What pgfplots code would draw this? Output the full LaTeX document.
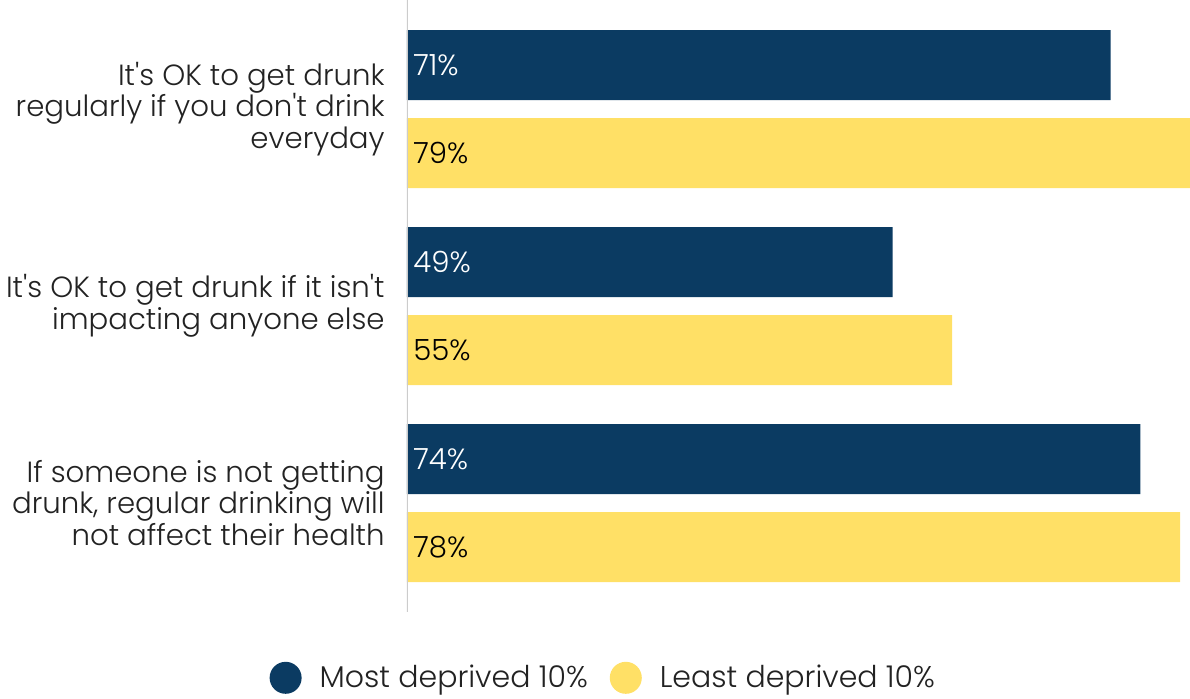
\documentclass[border=0pt]{standalone}
\usepackage{fontspec}
\setmainfont{Poppins}[UprightFont={* Light}]
\usepackage{pgfplots}
\pgfplotsset{compat=1.18}
\definecolor{navy}{HTML}{0B3B62}
\definecolor{sun}{HTML}{FFE066}
\definecolor{axgray}{HTML}{CCCCCC}
\definecolor{txt}{HTML}{222222}
\newcommand{\lab}{\fontsize{14.6}{15.75}\selectfont}
\newcommand{\q}{\textquotesingle}
\begin{document}
\begin{tikzpicture}
\begin{axis}[
  at={(203.5pt,0pt)}, anchor=north west,
  scale only axis, width=391.5pt, height=306pt,
  xbar, xmin=0, xmax=79,
  ymin=-0.5533, ymax=2.5533, y dir=reverse,
  enlargelimits=false,
  bar width=35pt,
  axis line style={draw=none},
  xtick=\empty,
  ytick={0,1,2},
  yticklabels={{It\q s OK to get drunk\\regularly if you don\q t drink\\everyday},
               {It\q s OK to get drunk if it isn\q t\\impacting anyone else},
               {If someone is not getting\\drunk, regular drinking will\\not affect their health}},
  yticklabel style={align=right, font=\lab, text=txt, inner sep=0pt, xshift=-11pt},
  major tick length=0pt,
  legend style={at={(0.252,-0.1075)}, anchor=center, draw=none, legend columns=2,
     font=\fontsize{15}{17}\selectfont, text=txt, /tikz/every even column/.append style={column sep=9pt}},
  legend cell align=left,
]
\addplot[fill=navy, draw=none, bar shift=22pt,
  legend image code/.code={\fill[navy, draw=none] (0pt,0pt) circle (8pt); \path[draw=none, fill=none] (0pt,0pt) -- (15pt,0pt);}]
  coordinates {(71,0) (49,1) (74,2)};
\addlegendentry{Most deprived 10\%}
\addplot[fill=sun, draw=none, bar shift=-22pt,
  legend image code/.code={\fill[sun, draw=none] (0pt,0pt) circle (8pt); \path[draw=none, fill=none] (0pt,0pt) -- (15pt,0pt);}]
  coordinates {(79,0) (55,1) (78,2)};
\addlegendentry{Least deprived 10\%}
\addplot[draw=none, fill=none, bar shift=22pt, forget plot,
  nodes near coords, point meta=explicit symbolic,
  every node near coord/.append style={anchor=west, text=white, inner sep=0pt, xshift=3pt, font=\lab}]
  coordinates {(0,0) [71\%] (0,1) [49\%] (0,2) [74\%]};
\addplot[draw=none, fill=none, bar shift=-22pt, forget plot,
  nodes near coords, point meta=explicit symbolic,
  every node near coord/.append style={anchor=west, text=black, inner sep=0pt, xshift=3pt, font=\lab}]
  coordinates {(0,0) [79\%] (0,1) [55\%] (0,2) [78\%]};
\draw[axgray, line width=1.5pt] (rel axis cs:0,0) -- (rel axis cs:0,1);
\end{axis}
\pgfresetboundingbox
\path (0,0) rectangle (595pt,-349pt);
\end{tikzpicture}
\end{document}
